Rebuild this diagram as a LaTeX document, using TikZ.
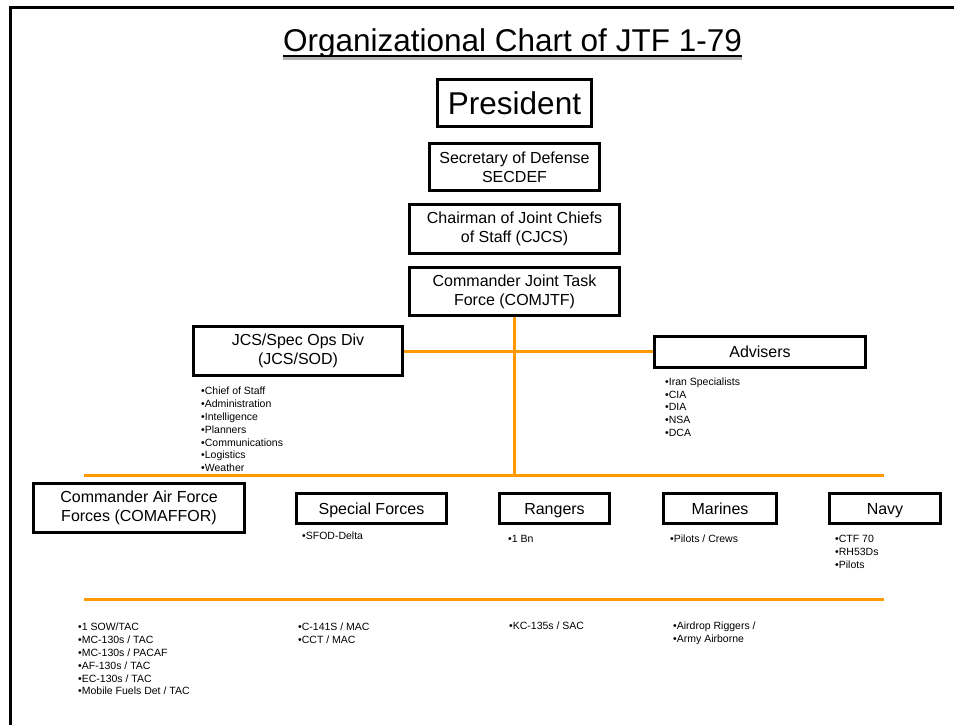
\documentclass[tikz,border=0pt]{standalone}
\usepackage{fontspec}
\setmainfont{Liberation Sans}
\usepackage{xcolor}
\usepackage{tikz}
\definecolor{lineorange}{RGB}{255,153,0}
\newcommand{\bigfont}{\fontsize{31.5}{36}\selectfont}
\newcommand{\boxfont}{\fontsize{16}{19}\selectfont}
\newcommand{\listfont}{\fontsize{10.5}{12.8}\selectfont}
\tikzstyle{orgbox} = [draw=black, line width=2.5pt, rectangle, inner sep=0pt, align=center, font=\boxfont]
\tikzstyle{oneline} = [text height=11.5pt, text depth=0pt]
\tikzstyle{orglist} = [anchor=north west, inner sep=0pt, align=left, font=\listfont]
\tikzstyle{orgline} = [draw=lineorange, line width=3pt]

\begin{document}
\begin{tikzpicture}[x=1pt, y=-1pt]
\useasboundingbox (0,0) rectangle (954,725);
\draw [line width=3pt] (954,8) -- (10,8) -- (10,725);   %cornice

% titolo
\node [anchor=base, inner sep=0pt, font=\bigfont] (title) at (512.5,52) {Organizational Chart of JTF 1-79};
\draw [line width=3pt, black!30] ([yshift=-7pt]title.base west) -- ([yshift=-7pt]title.base east);
\draw [line width=2pt] ([yshift=-4pt]title.base west) -- ([yshift=-4pt]title.base east);

% catena di comando
\node [orgbox, font=\bigfont, text height=22.6pt, text depth=0pt, minimum width=154, minimum height=47] (pres) at (514.5,103) {President};
\node [orgbox, minimum width=170, minimum height=47] (secdef) at (514.5,167) {Secretary of Defense\\SECDEF};
\node [orgbox, minimum width=210, minimum height=49] (cjcs) at (514.5,229) {Chairman of Joint Chiefs\\of Staff (CJCS)};
\node [orgbox, minimum width=210, minimum height=48] (comjtf) at (514.5,291.5) {Commander Joint Task\\Force (COMJTF)};
\node [orgbox, minimum width=209, minimum height=49] (sod) at (298,351) {JCS/Spec Ops Div\\(JCS/SOD)};
\node [orgbox, oneline, minimum width=211, minimum height=31] (adv) at (760,352) {Advisers};

\node [orglist] (sodlist) at (201,387) {%
    •Chief of Staff\\•Administration\\•Intelligence\\•Planners\\•Communications\\•Logistics\\•Weather};
\node [orglist] (advlist) at (665,377.5) {%
    •Iran Specialists\\•CIA\\•DIA\\•NSA\\•DCA};

% linee
\coordinate (busL) at (84,475);
\coordinate (busR) at (884,475);
\coordinate (lowL) at (84,599);
\coordinate (lowR) at (884,599);
\draw [orgline] (comjtf.south) -- (comjtf.south |- busL);
\draw [orgline] (sod.east) -- (sod.east -| adv.west);
\draw [orgline] (busL) -- (busR);
\draw [orgline] (lowL) -- (lowR);

% componenti
\node [orgbox, minimum width=211, minimum height=49] (comaffor) at (139,508) {Commander Air Force\\Forces (COMAFFOR)};
\node [orgbox, oneline, minimum width=150, minimum height=30] (spec) at (371.5,508.5) {Special Forces};
\node [orgbox, oneline, minimum width=110, minimum height=30] (rangers) at (554.5,508.5) {Rangers};
\node [orgbox, oneline, minimum width=113, minimum height=30] (marines) at (720,508.5) {Marines};
\node [orgbox, oneline, minimum width=111, minimum height=30] (navy) at (885,508.5) {Navy};

\node [orglist] (speclist) at (302,532) {•SFOD-Delta};
\node [orglist] (rangerslist) at (508,535) {•1 Bn};
\node [orglist] (marineslist) at (670,535) {•Pilots / Crews};
\node [orglist] (navylist) at (835,535) {•CTF 70\\•RH53Ds\\•Pilots};

% supporto
\node [orglist] (airlist) at (78,623) {%
    •1 SOW/TAC\\•MC-130s / TAC\\•MC-130s / PACAF\\•AF-130s / TAC\\•EC-130s / TAC\\•Mobile Fuels Det / TAC};
\node [orglist] (maclist) at (298,623) {•C-141S / MAC\\•CCT / MAC};
\node [orglist] (saclist) at (509,622) {•KC-135s / SAC};
\node [orglist] (riggerslist) at (673,622) {•Airdrop Riggers /\\•Army Airborne};
\end{tikzpicture}
\end{document}
